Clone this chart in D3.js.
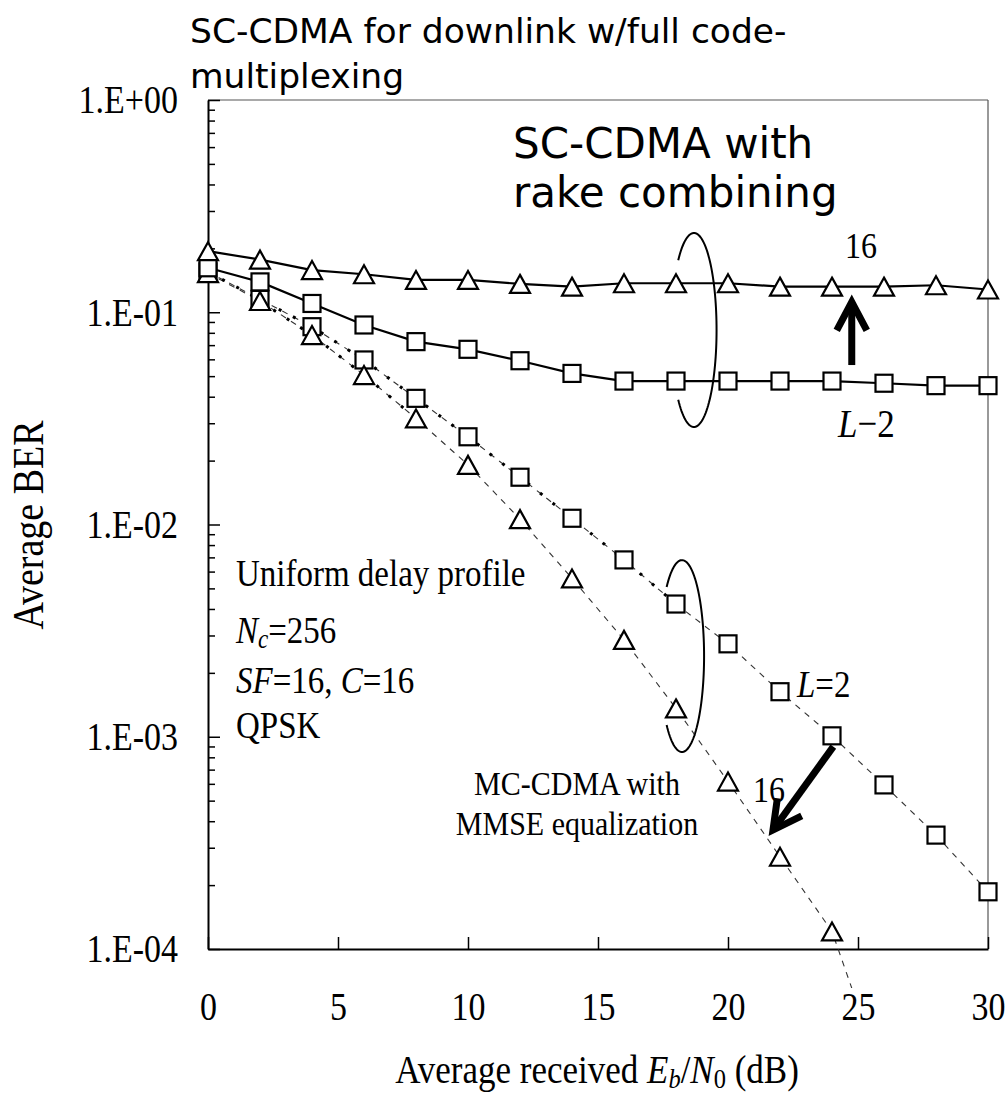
<!DOCTYPE html>
<html>
<head>
<meta charset="utf-8">
<script src="https://cdn.jsdelivr.net/npm/d3@7"></script>
<style>
  html, body { margin: 0; padding: 0; background: #fff; }
  svg { display: block; }
  .serif { font-family: "Liberation Serif", "Times New Roman", serif; fill: #000; }
  .sans { font-family: "DejaVu Sans", Verdana, sans-serif; fill: #000; }
</style>
</head>
<body>
<svg id="chart" width="1007" height="1100"></svg>
<script>
// Eb/N0 grid (dB)
const snr = [0, 2, 4, 6, 8, 10, 12, 14, 16, 18, 20, 22, 24, 26, 28, 30];

// SC-CDMA with rake combining
const rakeL2  = [0.162, 0.139, 0.110, 0.0871, 0.0727, 0.0669, 0.0591, 0.0515, 0.0474, 0.0474, 0.0474, 0.0474, 0.0474, 0.0463, 0.0451, 0.0451];
const rakeL16 = [0.194, 0.177, 0.158, 0.151, 0.142, 0.142, 0.136, 0.132, 0.137, 0.137, 0.137, 0.132, 0.132, 0.132, 0.134, 0.128];

// MC-CDMA with MMSE equalization
const mmseL2  = [0.155, 0.115, 0.0855, 0.0596, 0.0393, 0.0259, 0.0167, 0.0107, 0.00681, 0.00422, 0.00274, 0.00163, 0.00101, 0.000593, 0.000344, 0.000186];
const mmseL16 = [0.153, 0.113, 0.0781, 0.0506, 0.0316, 0.0191, 0.0106, 0.00557, 0.00286, 0.00136, 0.000615, 0.000272, 0.000121, 0.000024];

// Axis ticks
const xTicks = [0, 5, 10, 15, 20, 25, 30];
const yMajor = [1, 1e-1, 1e-2, 1e-3, 1e-4];
const yLabels = ["1.E+00", "1.E-01", "1.E-02", "1.E-03", "1.E-04"];

const STRETCH = 1.15; // tall serif lettering

const svg = d3.select("#chart");
const x = d3.scaleLinear().domain([0, 30]).range([208, 988]);
const y = d3.scaleLog().domain([1e-4, 1]).range([949, 100]);

// minor ticks 2..9 in every decade
const yMinor = [];
for (let e = -4; e < 0; e++) for (let k = 2; k <= 9; k++) yMinor.push(k * Math.pow(10, e));

// frame: light top/right edges
svg.append("line").attr("x1", x(0)).attr("x2", x(30)).attr("y1", y(1)).attr("y2", y(1))
  .attr("stroke", "#555").attr("stroke-width", 1.2);
svg.append("line").attr("x1", x(30)).attr("x2", x(30)).attr("y1", y(1)).attr("y2", y(1e-4))
  .attr("stroke", "#555").attr("stroke-width", 1.2);

// y axis minor ticks (inward)
svg.append("g").attr("transform", `translate(${x(0)},0)`)
  .call(d3.axisLeft(y).tickValues(yMinor).tickSizeInner(-7).tickSizeOuter(0).tickFormat(""))
  .call(g => g.select(".domain").remove())
  .call(g => g.selectAll(".tick line").attr("stroke", "#000").attr("stroke-width", 1.5));

// y axis major ticks and labels
svg.append("g").attr("transform", `translate(${x(0)},0)`)
  .call(d3.axisLeft(y).tickValues(yMajor).tickSizeInner(-12).tickSizeOuter(0).tickPadding(30)
    .tickFormat((d, i) => yLabels[i]))
  .call(g => g.select(".domain").attr("stroke", "#000").attr("stroke-width", 2))
  .call(g => g.selectAll(".tick line").attr("stroke", "#000").attr("stroke-width", 1.5))
  .call(g => g.selectAll(".tick text").attr("class", "serif").attr("font-size", 34)
    .attr("dy", "0.33em").attr("transform", `scale(1,${STRETCH})`));

// x axis
svg.append("g").attr("transform", `translate(0,${y(1e-4)})`)
  .call(d3.axisBottom(x).tickValues(xTicks).tickSizeInner(-12).tickSizeOuter(0).tickPadding(38))
  .call(g => g.select(".domain").attr("stroke", "#000").attr("stroke-width", 2))
  .call(g => g.selectAll(".tick line").attr("stroke", "#000").attr("stroke-width", 1.5))
  .call(g => g.selectAll(".tick text").attr("class", "serif").attr("font-size", 34)
    .attr("transform", `scale(1,${STRETCH})`));

// lines
const line = d3.line().x(d => x(d[0])).y(d => y(d[1]));
const pairs = vals => vals.map((v, i) => [snr[i], v]);

svg.append("defs").append("clipPath").attr("id", "tailclip")
  .append("rect").attr("x", 0).attr("y", 0).attr("width", 1007).attr("height", 988);

[pairs(mmseL2), pairs(mmseL16)].forEach(pts => {
  svg.append("path").datum(pts).attr("d", line).attr("clip-path", "url(#tailclip)")
    .attr("fill", "none").attr("stroke", "#333").attr("stroke-width", 1.1).attr("stroke-dasharray", "6,6");
});
// heavier dotted overlay on parts of the MMSE curves
svg.append("path").datum(pairs(mmseL2).slice(0, 10)).attr("d", line)
  .attr("fill", "none").attr("stroke", "#000").attr("stroke-width", 3).attr("stroke-dasharray", "3,13");
svg.append("path").datum(pairs(mmseL16).slice(1, 5)).attr("d", line)
  .attr("fill", "none").attr("stroke", "#000").attr("stroke-width", 3).attr("stroke-dasharray", "3,13");

[pairs(rakeL2), pairs(rakeL16)].forEach(pts => {
  svg.append("path").datum(pts).attr("d", line)
    .attr("fill", "none").attr("stroke", "#000").attr("stroke-width", 2.2);
});

// markers
const tri = "M0,-9L10,9L-10,9Z";
function drawSquares(pts) {
  svg.append("g").selectAll("rect").data(pts).join("rect")
    .attr("x", d => x(d[0]) - 8.5).attr("y", d => y(d[1]) - 8.5)
    .attr("width", 17).attr("height", 17)
    .attr("fill", "#fff").attr("stroke", "#000").attr("stroke-width", 2.2);
}
function drawTriangles(pts) {
  svg.append("g").selectAll("path").data(pts).join("path")
    .attr("d", tri).attr("transform", d => `translate(${x(d[0])},${y(d[1])})`)
    .attr("fill", "#fff").attr("stroke", "#000").attr("stroke-width", 2.2);
}
drawSquares(pairs(mmseL2));
drawTriangles(pairs(mmseL16).filter(d => d[1] >= 1e-4));
drawSquares(pairs(rakeL2));
drawTriangles(pairs(rakeL16));

// open-sided ellipses grouping the curves
function groupEllipse(cxDb, cyBer, rxDb, ryDec) {
  const cx = x(cxDb), cy = y(cyBer);
  const rx = x(cxDb + rxDb) - cx, ry = (y(1e-4) - y(1)) / 4 * ryDec;
  const a0 = -134 * Math.PI / 180, a1 = 134 * Math.PI / 180;
  const pts = d3.range(0, 101).map(i => {
    const t = a0 + (a1 - a0) * i / 100;
    return [cx + rx * Math.cos(t), cy + ry * Math.sin(t)];
  });
  svg.append("path").attr("d", d3.line()(pts))
    .attr("fill", "none").attr("stroke", "#000").attr("stroke-width", 2);
}
groupEllipse(18.69, 0.0825, 0.87, 0.457);
groupEllipse(18.23, 0.0024, 0.85, 0.452);

// thick arrows
function arrow(x0, y0, x1, y1) {
  const p0 = [x(x0), y(y0)], p1 = [x(x1), y(y1)];
  const dx = p1[0] - p0[0], dy = p1[1] - p0[1], len = Math.hypot(dx, dy);
  const ux = dx / len, uy = dy / len;
  const tip = [p1[0] - ux * 4, p1[1] - uy * 4];
  const arm = 32, ang = 28 * Math.PI / 180;
  const back = [-ux, -uy];
  const rot = a => [back[0] * Math.cos(a) - back[1] * Math.sin(a), back[0] * Math.sin(a) + back[1] * Math.cos(a)];
  const r1 = rot(ang), r2 = rot(-ang);
  svg.append("line").attr("x1", p0[0]).attr("y1", p0[1]).attr("x2", tip[0] - ux * 3).attr("y2", tip[1] - uy * 3)
    .attr("stroke", "#000").attr("stroke-width", 7);
  svg.append("path")
    .attr("d", d3.line()([[tip[0] + r1[0] * arm, tip[1] + r1[1] * arm], tip, [tip[0] + r2[0] * arm, tip[1] + r2[1] * arm]]))
    .attr("fill", "none").attr("stroke", "#000").attr("stroke-width", 7).attr("stroke-linejoin", "miter");
}
arrow(24.76, 0.0564, 24.76, 0.1167);
arrow(24.05, 8.98e-4, 21.64, 3.51e-4);

// titles and annotations
const title = svg.append("text").attr("class", "sans").attr("font-size", 34.5);
title.append("tspan").attr("x", 190).attr("y", 43).text("SC-CDMA for downlink w/full code-");
title.append("tspan").attr("x", 190).attr("y", 88).text("multiplexing");

const sc = svg.append("text").attr("class", "sans").attr("font-size", 42);
sc.append("tspan").attr("x", 513).attr("y", 158).text("SC-CDMA with");
sc.append("tspan").attr("x", 513).attr("y", 207).text("rake combining");

function serifText(xp, yp, size, parts, anchor, extra) {
  const t = svg.append("text").attr("class", "serif")
    .attr("transform", `translate(${xp},${yp}) ${extra || ""} scale(1,${STRETCH})`)
    .attr("font-size", size).attr("text-anchor", anchor || "start");
  parts.forEach(p => {
    const s = t.append("tspan").text(p.t);
    if (p.i) s.attr("font-style", "italic");
    if (p.sub) s.attr("font-size", size * 0.7).attr("baseline-shift", "-20%");
  });
  return t;
}

serifText(236, 586, 33, [{t: "Uniform delay profile"}]);
serifText(236, 643, 33, [{t: "N", i: 1}, {t: "c", i: 1, sub: 1}, {t: "=256"}]);
serifText(236, 693, 33, [{t: "SF", i: 1}, {t: "=16, "}, {t: "C", i: 1}, {t: "=16"}]);
serifText(236, 738, 33, [{t: "QPSK"}]);
serifText(577, 795, 30, [{t: "MC-CDMA with"}], "middle");
serifText(577, 835, 30, [{t: "MMSE equalization"}], "middle");
serifText(753, 802, 32, [{t: "16"}]);
serifText(845, 258, 32, [{t: "16"}]);
serifText(838, 437, 35, [{t: "L", i: 1}, {t: "\u22122"}]);
serifText(797, 697, 33, [{t: "L", i: 1}, {t: "=2"}]);

// axis titles
serifText(597, 1083, 35, [{t: "Average received "}, {t: "E", i: 1}, {t: "b", i: 1, sub: 1}, {t: "/"}, {t: "N", i: 1}, {t: "0", sub: 1}, {t: " (dB)"}], "middle");
serifText(43, 525, 38, [{t: "Average BER"}], "middle", "rotate(-90)");
</script>
</body>
</html>
